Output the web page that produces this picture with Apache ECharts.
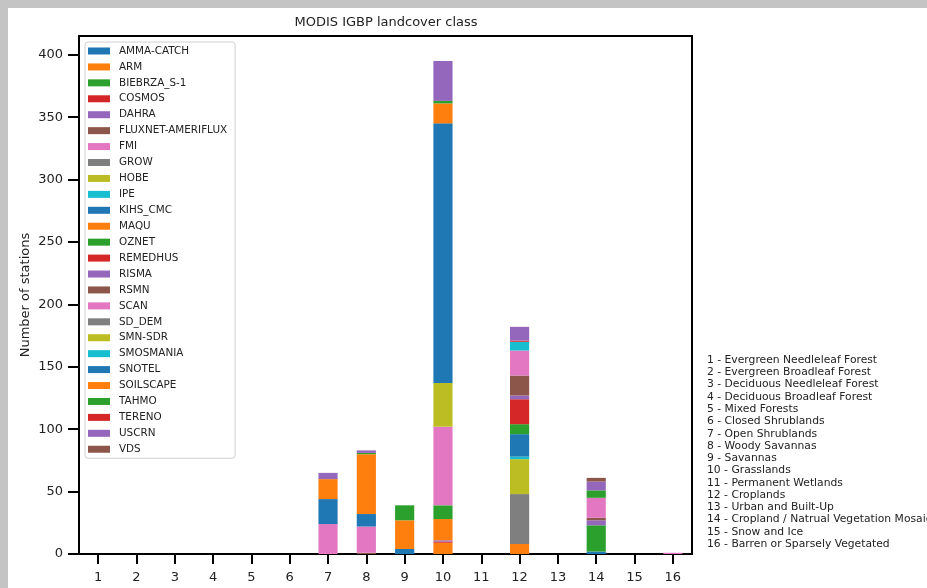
<!DOCTYPE html>
<html>
<head>
<meta charset="utf-8">
<script src="https://cdn.jsdelivr.net/npm/echarts@6/dist/echarts.min.js"></script>
<style>
html,body{margin:0;padding:0;background:#fff;}
#chart{width:927px;height:588px;}
</style>
</head>
<body>
<div id="chart"></div>
<script>
// ---- data ----
const classes = ['1','2','3','4','5','6','7','8','9','10','11','12','13','14','15','16'];
const yTicks = [0, 50, 100, 150, 200, 250, 300, 350, 400];
const classNames = [
  '1 - Evergreen Needleleaf Forest',
  '2 - Evergreen Broadleaf Forest',
  '3 - Deciduous Needleleaf Forest',
  '4 - Deciduous Broadleaf Forest',
  '5 - Mixed Forests',
  '6 - Closed Shrublands',
  '7 - Open Shrublands',
  '8 - Woody Savannas',
  '9 - Savannas',
  '10 - Grasslands',
  '11 - Permanent Wetlands',
  '12 - Croplands',
  '13 - Urban and Built-Up',
  '14 - Cropland / Natrual Vegetation Mosaic',
  '15 - Snow and Ice',
  '16 - Barren or Sparsely Vegetated'
];
const networks = ['AMMA-CATCH','ARM','BIEBRZA_S-1','COSMOS','DAHRA','FLUXNET-AMERIFLUX','FMI','GROW','HOBE','IPE','KIHS_CMC','MAQU','OZNET','REMEDHUS','RISMA','RSMN','SCAN','SD_DEM','SMN-SDR','SMOSMANIA','SNOTEL','SOILSCAPE','TAHMO','TERENO','USCRN','VDS'];

//                         1  2  3  4  5  6  7   8   9   10  11  12  13  14  15  16
const AMMA_CATCH        = [0, 0, 0, 0, 0, 0, 0,  0,  4,   0, 0,  0, 0,  0, 0, 0];
const ARM               = [0, 0, 0, 0, 0, 0, 0,  0,  0,   9, 0,  8, 0,  0, 0, 0];
const BIEBRZA_S_1       = [0, 0, 0, 0, 0, 0, 0,  0,  0,   0, 0,  0, 0,  0, 0, 0];
const COSMOS            = [0, 0, 0, 0, 0, 0, 0,  0,  0,   1, 0,  0, 0,  0, 0, 0];
const DAHRA             = [0, 0, 0, 0, 0, 0, 0,  0,  0,   1, 0,  0, 0,  0, 0, 0];
const FLUXNET_AMERIFLUX = [0, 0, 0, 0, 0, 0, 0,  1,  0,   0, 0,  0, 0,  0, 0, 0];
const FMI               = [0, 0, 0, 0, 0, 0, 0,  0,  0,   0, 0,  0, 0,  0, 0, 0];
const GROW              = [0, 0, 0, 0, 0, 0, 0,  0,  0,   0, 0, 40, 0,  0, 0, 0];
const HOBE              = [0, 0, 0, 0, 0, 0, 0,  0,  0,   0, 0, 28, 0,  0, 0, 0];
const IPE               = [0, 0, 0, 0, 0, 0, 0,  0,  0,   0, 0,  2, 0,  0, 0, 0];
const KIHS_CMC          = [0, 0, 0, 0, 0, 0, 0,  0,  0,   0, 0, 18, 0,  2, 0, 0];
const MAQU              = [0, 0, 0, 0, 0, 0, 0,  0,  0,  17, 0,  0, 0,  0, 0, 0];
const OZNET             = [0, 0, 0, 0, 0, 0, 0,  0,  0,  11, 0,  8, 0, 21, 0, 0];
const REMEDHUS          = [0, 0, 0, 0, 0, 0, 0,  0,  0,   0, 0, 20, 0,  0, 0, 0];
const RISMA             = [0, 0, 0, 0, 0, 0, 0,  0,  0,   0, 0,  3, 0,  4, 0, 0];
const RSMN              = [0, 0, 0, 0, 0, 0, 0,  0,  0,   0, 0, 16, 0,  2, 0, 0];
const SCAN              = [0, 0, 0, 0, 0, 0, 24, 21, 0,  63, 0, 20, 0, 16, 0, 1];
const SD_DEM            = [0, 0, 0, 0, 0, 0, 0,  0,  0,   0, 0,  0, 0,  0, 0, 0];
const SMN_SDR           = [0, 0, 0, 0, 0, 0, 0,  0,  0,  35, 0,  0, 0,  0, 0, 0];
const SMOSMANIA         = [0, 0, 0, 0, 0, 0, 0,  0,  0,   0, 0,  7, 0,  0, 0, 0];
const SNOTEL            = [0, 0, 0, 0, 0, 0, 20, 10, 0, 208, 0,  0, 0,  0, 0, 0];
const SOILSCAPE         = [0, 0, 0, 0, 0, 0, 16, 48, 23, 16, 0,  0, 0,  0, 0, 0];
const TAHMO             = [0, 0, 0, 0, 0, 0, 0,  1, 12,   2, 0,  0, 0,  6, 0, 0];
const TERENO            = [0, 0, 0, 0, 0, 0, 0,  0,  0,   0, 0,  1, 0,  0, 0, 0];
const USCRN             = [0, 0, 0, 0, 0, 0, 5,  2,  0,  32, 0, 11, 0,  7, 0, 0];
const VDS               = [0, 0, 0, 0, 0, 0, 0,  0,  0,   0, 0,  0, 0,  3, 0, 0];

const networkValues = [AMMA_CATCH, ARM, BIEBRZA_S_1, COSMOS, DAHRA, FLUXNET_AMERIFLUX, FMI, GROW, HOBE, IPE,
  KIHS_CMC, MAQU, OZNET, REMEDHUS, RISMA, RSMN, SCAN, SD_DEM, SMN_SDR, SMOSMANIA, SNOTEL, SOILSCAPE, TAHMO, TERENO, USCRN, VDS];

// ---- style ----
const palette = ['#1f77b4','#ff7f0e','#2ca02c','#d62728','#9467bd','#8c564b','#e377c2','#7f7f7f','#bcbd22','#17becf'];
const FONT = 'DejaVu Sans';

const chart = echarts.init(document.getElementById('chart'), null, {renderer: 'canvas'});

const series = networks.map((name, i) => ({
  name: name,
  type: 'bar',
  stack: 'total',
  barWidth: '50%',
  data: networkValues[i],
  itemStyle: {color: palette[i % palette.length]},
  emphasis: {disabled: true}
}));

const option = {
  backgroundColor: '#ffffff',
  animation: false,
  textStyle: {fontFamily: FONT},
  title: {
    text: 'MODIS IGBP landcover class',
    left: 386,
    top: 16,
    textAlign: 'center',
    padding: 0,
    textStyle: {fontFamily: FONT, fontSize: 13, fontWeight: 'normal', color: '#222'}
  },
  grid: {
    left: 79, right: 235, top: 36, bottom: 34,
    show: true, borderColor: '#000', borderWidth: 2, backgroundColor: 'transparent'
  },
  legend: {
    orient: 'vertical',
    left: 85,
    top: 42,
    padding: [3, 8, 3, 3],
    itemWidth: 22,
    itemHeight: 7,
    itemGap: 3.93,
    icon: 'rect',
    borderColor: '#d0d0d0',
    borderWidth: 1,
    borderRadius: 3,
    backgroundColor: 'rgba(255,255,255,0.85)',
    textStyle: {fontFamily: FONT, fontSize: 10.4, color: '#222', lineHeight: 12, padding: [0, 0, 0, 4]},
    data: networks
  },
  xAxis: {
    type: 'category',
    data: classes,
    boundaryGap: true,
    axisLine: {show: true, lineStyle: {color: '#000', width: 2}},
    axisTick: {show: true, alignWithLabel: true, length: 10, lineStyle: {color: '#000', width: 2}},
    axisLabel: {fontFamily: FONT, fontSize: 13, color: '#222', margin: 17},
    splitLine: {show: false}
  },
  yAxis: {
    type: 'value',
    min: 0,
    max: 415,
    interval: 50,
    name: 'Number of stations',
    nameLocation: 'middle',
    nameGap: 47,
    nameMoveOverlap: false,
    nameTextStyle: {fontFamily: FONT, fontSize: 13, color: '#222'},
    axisLine: {show: true, lineStyle: {color: '#000', width: 2}},
    axisTick: {show: true, length: 11, lineStyle: {color: '#000', width: 2}, customValues: yTicks},
    axisLabel: {fontFamily: FONT, fontSize: 13, color: '#222', margin: 16, customValues: yTicks},
    splitLine: {show: false}
  },
  graphic: [
    {type: 'rect', left: 0, top: 0, shape: {width: 927, height: 8}, style: {fill: '#c4c4c4'}, z: 100},
    {type: 'rect', left: 0, top: 0, shape: {width: 8, height: 588}, style: {fill: '#c4c4c4'}, z: 100},
    {
      type: 'text',
      left: 707,
      top: 354,
      style: {
        text: classNames.join('\n'),
        fontFamily: FONT,
        fontSize: 10.75,
        lineHeight: 12.27,
        fill: '#222'
      },
      z: 100
    }
  ],
  series: series
};

chart.setOption(option);
</script>
</body>
</html>
